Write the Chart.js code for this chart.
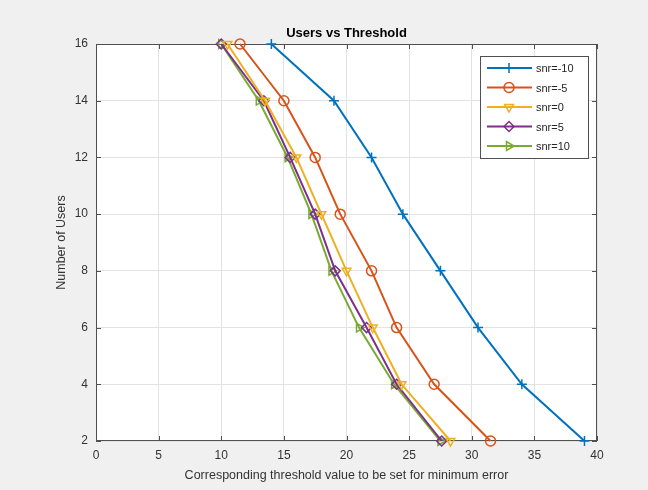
<!DOCTYPE html>
<html>
<head>
<meta charset="utf-8">
<script src="https://cdn.jsdelivr.net/npm/chart.js@4.4.0/dist/chart.umd.min.js"></script>
<style>
  html, body { margin: 0; padding: 0; background: #f0f0f0; }
  #wrap { width: 648px; height: 490px; }
</style>
</head>
<body>
<div id="wrap"><canvas id="myChart" width="648" height="490"></canvas></div>
<script>
// data
const users = [16, 14, 12, 10, 8, 6, 4, 2];
const snrM10 = [14, 19, 22, 24.5, 27.5, 30.5, 34, 39];
const snrM5 = [11.5, 15, 17.5, 19.5, 22, 24, 27, 31.5];
const snr0 = [10.5, 13.5, 16, 18, 20, 22.1, 24.4, 28.3];
const snr5 = [10, 13.4, 15.5, 17.5, 19.1, 21.6, 24, 27.6];
const snr10 = [10, 13, 15.3, 17.2, 18.8, 21, 23.8, 27.5];
const seriesNames = ['snr=-10', 'snr=-5', 'snr=0', 'snr=5', 'snr=10'];
const xTicks = [0, 5, 10, 15, 20, 25, 30, 35, 40];
const yTicks = [2, 4, 6, 8, 10, 12, 14, 16];

const colors = ['#0072BD', '#D95319', '#EDB120', '#7E2F8E', '#77AC30'];
const markers = [
  { style: 'cross', rot: 0 },
  { style: 'circle', rot: 0 },
  { style: 'triangle', rot: 180 },
  { style: 'rectRot', rot: 0 },
  { style: 'triangle', rot: 90 }
];

function pts(xs) {
  return xs.map((x, i) => ({ x: x, y: users[i] }));
}

const allSeries = [snrM10, snrM5, snr0, snr5, snr10];
const datasets = allSeries.map((s, i) => ({
  label: seriesNames[i],
  data: pts(s),
  borderColor: colors[i],
  backgroundColor: 'transparent',
  borderWidth: 2,
  pointStyle: markers[i].style,
  pointRotation: markers[i].rot,
  pointRadius: 5,
  pointBorderWidth: 1.5,
  pointBorderColor: colors[i],
  pointBackgroundColor: 'transparent',
  clip: false,
  tension: 0
}));

// background, box, inward ticks, title, legend
const matlabLook = {
  id: 'matlabLook',
  beforeDraw(chart) {
    const { ctx, chartArea: a } = chart;
    ctx.save();
    ctx.fillStyle = '#f0f0f0';
    ctx.fillRect(0, 0, chart.width, chart.height);
    ctx.fillStyle = '#ffffff';
    ctx.fillRect(a.left, a.top, a.right - a.left, a.bottom - a.top);
    ctx.restore();
  },
  beforeDatasetsDraw(chart) {
    const { ctx, chartArea: a, scales } = chart;
    ctx.save();
    ctx.strokeStyle = '#505050';
    ctx.lineWidth = 1;
    ctx.strokeRect(a.left + 0.5, a.top + 0.5, a.right - a.left - 1, a.bottom - a.top - 1);
    ctx.beginPath();
    xTicks.forEach(v => {
      const px = Math.round(scales.x.getPixelForValue(v)) + 0.5;
      ctx.moveTo(px, a.bottom); ctx.lineTo(px, a.bottom - 5);
      ctx.moveTo(px, a.top); ctx.lineTo(px, a.top + 5);
    });
    yTicks.forEach(v => {
      const py = Math.round(scales.y.getPixelForValue(v)) + 0.5;
      ctx.moveTo(a.left, py); ctx.lineTo(a.left + 5, py);
      ctx.moveTo(a.right, py); ctx.lineTo(a.right - 5, py);
    });
    ctx.stroke();

    // title
    ctx.fillStyle = '#000';
    ctx.font = 'bold 13px "Liberation Sans", Arial, sans-serif';
    ctx.textAlign = 'center';
    ctx.textBaseline = 'bottom';
    ctx.fillText('Users vs Threshold', (a.left + a.right) / 2, a.top - 4);
    ctx.restore();
  },
  afterDatasetsDraw(chart) {
    const { ctx } = chart;
    ctx.save();
    // legend
    const lx = 480, ly = 56, lw = 108, lh = 102;
    ctx.fillStyle = '#fff';
    ctx.fillRect(lx, ly, lw, lh);
    ctx.strokeStyle = '#505050';
    ctx.lineWidth = 1;
    ctx.strokeRect(lx + 0.5, ly + 0.5, lw, lh);
    ctx.font = '11px "Liberation Sans", Arial, sans-serif';
    ctx.textAlign = 'left';
    ctx.textBaseline = 'middle';
    chart.data.datasets.forEach((ds, i) => {
      const y = ly + 12 + i * 19.5;
      ctx.strokeStyle = ds.borderColor;
      ctx.lineWidth = 2;
      ctx.beginPath();
      ctx.moveTo(lx + 7, y); ctx.lineTo(lx + 52, y);
      ctx.stroke();
      ctx.lineWidth = 1.5;
      ctx.fillStyle = 'rgba(0,0,0,0)';
      Chart.helpers.drawPoint(ctx, {
        pointStyle: ds.pointStyle, rotation: ds.pointRotation,
        radius: 5, borderWidth: 1.5
      }, lx + 29, y);
      ctx.fillStyle = '#262626';
      ctx.fillText(ds.label, lx + 56, y + 1);
    });
    ctx.restore();
  }
};

const ctx = document.getElementById('myChart');
new Chart(ctx, {
  type: 'line',
  data: { datasets: datasets },
  plugins: [matlabLook],
  options: {
    responsive: false,
    animation: false,
    layout: { padding: { left: 0, right: 51, top: 44, bottom: 0 } },
    plugins: {
      legend: { display: false },
      title: { display: false },
      tooltip: { enabled: false }
    },
    scales: {
      x: {
        type: 'linear',
        min: 0,
        max: 40,
        afterBuildTicks: s => { s.ticks = xTicks.map(v => ({ value: v })); },
        afterFit: s => { s.height = 49; },
        grid: { color: '#e3e3e3', drawTicks: false },
        border: { display: false },
        ticks: { color: '#333', padding: 7, font: { size: 12, family: '"Liberation Sans", Arial, sans-serif' } },
        title: {
          display: true,
          text: 'Corresponding threshold value to be set for minimum error',
          color: '#333',
          padding: { top: 2, bottom: 7 },
          font: { size: 12.5, family: '"Liberation Sans", Arial, sans-serif' }
        }
      },
      y: {
        type: 'linear',
        min: 2,
        max: 16,
        afterBuildTicks: s => { s.ticks = yTicks.map(v => ({ value: v })); },
        afterFit: s => { s.width = 96; },
        grid: { color: '#e3e3e3', drawTicks: false },
        border: { display: false },
        ticks: { color: '#333', padding: 8, font: { size: 12, family: '"Liberation Sans", Arial, sans-serif' } },
        title: {
          display: true,
          text: 'Number of Users',
          color: '#333',
          padding: { top: 54, bottom: 0 },
          font: { size: 12.5, family: '"Liberation Sans", Arial, sans-serif' }
        }
      }
    }
  }
});
</script>
</body>
</html>
